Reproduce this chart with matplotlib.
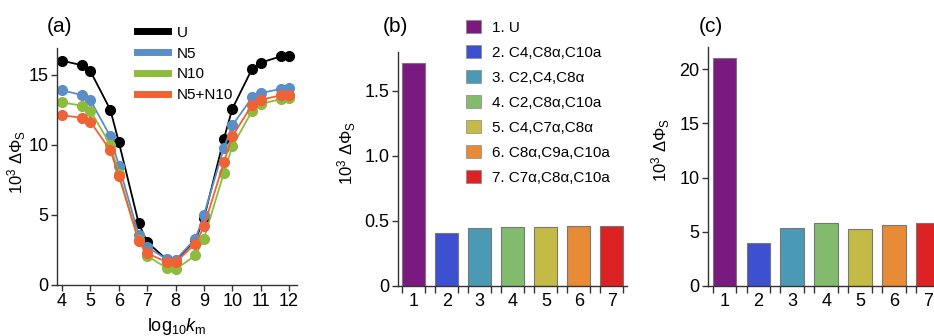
import numpy as np
import matplotlib
matplotlib.use("Agg")
import matplotlib.pyplot as plt
from matplotlib.lines import Line2D
from matplotlib.patches import Patch

plt.rcParams['font.family'] = ['Liberation Sans', 'DejaVu Sans']
plt.rcParams['mathtext.fontset'] = 'custom'
plt.rcParams['mathtext.rm'] = 'Liberation Sans'
plt.rcParams['mathtext.it'] = 'Liberation Sans:italic'
plt.rcParams['mathtext.bf'] = 'Liberation Sans:bold'

# panel (a) data
log_km = [4, 4.7, 5, 5.7, 6, 6.7, 7, 7.7, 8, 8.7, 9, 9.7, 10, 10.7, 11, 11.7, 12]
u_vals = [16.0, 15.67, 15.24, 12.5, 10.19, 4.4, 3.05, 1.79, 1.74, 3.2, 4.76,
          10.4, 12.57, 15.43, 15.86, 16.3, 16.36]
n5_vals = [13.88, 13.55, 13.17, 10.6, 8.52, 3.57, 2.69, 1.83, 1.79, 3.29, 5.0,
           9.76, 11.38, 13.38, 13.69, 13.98, 14.02]
n10_vals = [13.02, 12.79, 12.43, 10.0, 7.93, 3.17, 2.07, 1.19, 1.12, 2.1, 3.31,
            7.98, 9.88, 12.43, 12.9, 13.26, 13.31]
n5n10_vals = [12.1, 11.93, 11.64, 9.6, 7.79, 3.1, 2.26, 1.62, 1.62, 2.93, 4.17,
              8.74, 10.6, 12.86, 13.21, 13.52, 13.57]
series_names = ['U', 'N5', 'N10', 'N5+N10']
series_colors = ['black', '#5b8dc8', '#8dbb3c', '#ef6236']

# panels (b) and (c) data
bar_ids = [1, 2, 3, 4, 5, 6, 7]
bar_labels = ['1. U', '2. C4,C8α,C10a', '3. C2,C4,C8α',
              '4. C2,C8α,C10a', '5. C4,C7α,C8α',
              '6. C8α,C9a,C10a', '7. C7α,C8α,C10a']
b_vals = [1.71, 0.409, 0.442, 0.450, 0.455, 0.463, 0.463]
c_vals = [21.02, 4.0, 5.35, 5.85, 5.26, 5.6, 5.82]
bar_colors = ['#7a1a80', '#3d50cf', '#4b9ab5', '#82bb6e', '#c4bb46',
              '#e88b36', '#dc2222']

ylab = '10$^3$ $\\Delta\\Phi_\\mathrm{S}$'
spine_col = '#333333'

fig = plt.figure(figsize=(9.34, 3.36), dpi=100)


def style_axes(ax):
    ax.spines['top'].set_visible(False)
    ax.spines['right'].set_visible(False)
    for s in ['left', 'bottom']:
        ax.spines[s].set_color(spine_col)
        ax.spines[s].set_linewidth(1.0)
    ax.tick_params(direction='out', length=4, width=1, color=spine_col,
                   labelsize=13, pad=2)


# (a)
ax1 = fig.add_axes([0.061, 0.152, 0.257, 0.705])
vals = [u_vals, n5_vals, n10_vals, n5n10_vals]
for v, c in zip(vals, series_colors):
    ax1.plot(log_km, v, '-o', color=c, lw=1.3, ms=7, mec=c, clip_on=False)
ax1.set_xlim(3.82, 12.28)
ax1.set_ylim(0, 16.9)
ax1.set_xticks(range(4, 13))
ax1.set_yticks([0, 5, 10, 15])
style_axes(ax1)
ax1.set_ylabel(ylab, fontsize=12)
ax1.yaxis.set_label_coords(-0.12, 0.52)
ax1.set_xlabel('log$_{10}$$k_\\mathrm{m}$', fontsize=13, labelpad=4)
handles = [Line2D([0], [0], color=c, lw=5) for c in series_colors]
ax1.legend(handles, series_names, loc='upper left', bbox_to_anchor=(0.31, 1.12),
           frameon=False, fontsize=11, handlelength=2.0, handletextpad=0.6,
           labelspacing=0.45, borderaxespad=0)
fig.text(0.05, 0.905, '(a)', fontsize=15)


def bar_panel(ax, values):
    ax.bar(bar_ids, values, width=0.69, color=bar_colors, edgecolor='#777777',
           linewidth=0.8, zorder=2)
    ax.set_xlim(0.52, 7.45)
    ax.set_xticks(bar_ids)
    edges = [x + d for x in bar_ids for d in (-0.345, 0.345)]
    ax.set_xticks(edges, minor=True)
    style_axes(ax)
    ax.tick_params(axis='x', which='major', length=0, pad=5)
    ax.tick_params(axis='x', which='minor', direction='out', length=5, width=1,
                   color=spine_col)
    ax.set_ylabel(ylab, fontsize=12)


# (b)
ax2 = fig.add_axes([0.426, 0.149, 0.245, 0.696])
bar_panel(ax2, b_vals)
ax2.set_ylim(0, 1.795)
ax2.set_yticks([0, 0.5, 1.0, 1.5])
ax2.set_yticklabels(['0', '0.5', '1.0', '1.5'])
ax2.yaxis.set_label_coords(-0.175, 0.57)
leg_handles = [Patch(facecolor=c, edgecolor='#888888', linewidth=0.5)
               for c in bar_colors]
ax2.legend(leg_handles, bar_labels, loc='upper left', bbox_to_anchor=(0.27, 1.165),
           frameon=False, fontsize=11, handlelength=1.0, handleheight=1.0,
           handletextpad=0.7, labelspacing=0.65, borderaxespad=0)
fig.text(0.41, 0.905, '(b)', fontsize=15)

# (c)
ax3 = fig.add_axes([0.758, 0.149, 0.252, 0.711])
bar_panel(ax3, c_vals)
ax3.set_ylim(0, 22.06)
ax3.set_yticks([0, 5, 10, 15, 20])
ax3.yaxis.set_label_coords(-0.153, 0.57)
fig.text(0.748, 0.905, '(c)', fontsize=15)

fig.savefig('out.png', dpi=100)
